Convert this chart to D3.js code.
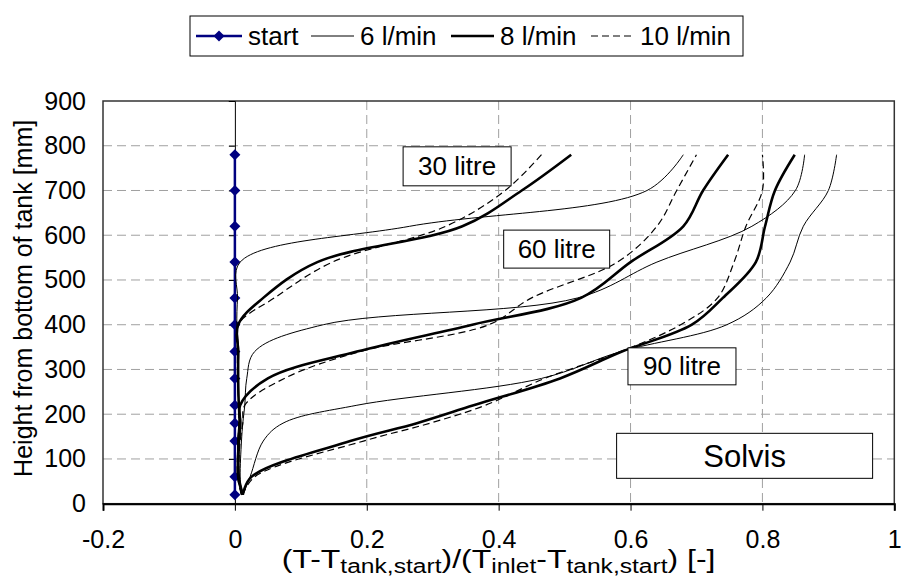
<!DOCTYPE html>
<html lang="en">
<head>
<meta charset="utf-8">
<title>Solvis - temperature profiles during draw-off</title>
<script src="https://cdn.jsdelivr.net/npm/d3@7"></script>
<style>
  body { margin: 0; background: #fff; }
  svg { font-family: "Liberation Sans", Arial, sans-serif; }
</style>
</head>
<body>
<script>
// sensor heights in the tank [mm]
var heights = [20, 60, 140, 180, 220, 280, 340, 400, 460, 540, 620, 700, 780];

// dimensionless temperature at each sensor height
var startVals = [0, 0, 0, 0, 0, 0, 0, 0, 0, 0, 0, 0, 0];
var l30_6  = [0.010, 0.006, 0.004, 0.006, 0.006, 0.004, 0.006, 0.003, 0.004, 0.008, 0.265, 0.625, 0.680];
var l30_8  = [0.012, 0.005, 0.006, 0.008, 0.006, 0.005, 0.005, 0.005, 0.043, 0.125, 0.345, 0.435, 0.510];
var l30_10 = [0.010, 0.004, 0.005, 0.006, 0.006, 0.004, 0.004, 0.005, 0.060, 0.148, 0.320, 0.410, 0.465];
var l60_6  = [0.010, 0.008, 0.010, 0.012, 0.015, 0.018, 0.030, 0.134, 0.520, 0.640, 0.784, 0.850, 0.864];
var l60_8  = [0.012, 0.006, 0.006, 0.008, 0.008, 0.050, 0.185, 0.360, 0.525, 0.600, 0.680, 0.710, 0.748];
var l60_10 = [0.010, 0.006, 0.008, 0.012, 0.015, 0.075, 0.190, 0.385, 0.450, 0.580, 0.640, 0.670, 0.700];
var l90_6  = [0.012, 0.023, 0.043, 0.073, 0.185, 0.465, 0.585, 0.746, 0.806, 0.842, 0.862, 0.900, 0.9125];
var l90_8  = [0.012, 0.025, 0.175, 0.276, 0.362, 0.493, 0.587, 0.693, 0.740, 0.790, 0.804, 0.819, 0.849];
var l90_10 = [0.012, 0.030, 0.195, 0.296, 0.380, 0.470, 0.585, 0.676, 0.732, 0.757, 0.775, 0.800, 0.800];

var flowNames = ["6 l/min", "8 l/min", "10 l/min"];
var xTicks = [-0.2, 0, 0.2, 0.4, 0.6, 0.8, 1];
var yTicks = [0, 100, 200, 300, 400, 500, 600, 700, 800, 900];

// box labels: text, x value, height
var boxLabels = ["30 litre", "60 litre", "90 litre"];
var boxX = [0.337, 0.488, 0.678];
var boxH = [754, 569, 307];
var tankName = "Solvis";
var tankX = 0.773, tankH = 107;

var w = 901, h = 580;
var pLeft = 103, pRight = 894.3, pTop = 101, pBottom = 503.7;

var svg = d3.select("body").append("svg")
    .attr("width", w)
    .attr("height", h);

var x = d3.scaleLinear().domain([-0.2, 1]).range([pLeft, pRight]);
var y = d3.scaleLinear().domain([0, 900]).range([pBottom, pTop]);

// grid
svg.append("g").selectAll("line")
    .data(yTicks.filter(function(d) { return d > 0 && d < 900; }))
    .enter().append("line")
    .attr("x1", pLeft).attr("x2", pRight)
    .attr("y1", function(d) { return y(d); })
    .attr("y2", function(d) { return y(d); })
    .attr("stroke", "#a0a0a0")
    .attr("stroke-dasharray", "9,5");

svg.append("g").selectAll("line")
    .data(xTicks.filter(function(d) { return d > 0 && d < 1; }))
    .enter().append("line")
    .attr("y1", pTop).attr("y2", pBottom)
    .attr("x1", function(d) { return x(d); })
    .attr("x2", function(d) { return x(d); })
    .attr("stroke", "#a0a0a0")
    .attr("stroke-dasharray", "9,5");

// plot border
svg.append("rect")
    .attr("x", pLeft).attr("y", pTop)
    .attr("width", pRight - pLeft).attr("height", pBottom - pTop)
    .attr("fill", "none")
    .attr("stroke", "#333")
    .attr("stroke-width", 1.5);

// value axis crosses at x = 0
var yAxisAtZero = d3.axisLeft(y).tickValues(yTicks).tickSize(6).tickFormat("");
svg.append("g")
    .attr("transform", "translate(" + x(0) + ",0)")
    .call(yAxisAtZero)
    .call(function(g) { g.selectAll("line, path").attr("stroke", "#000"); });

// y labels at the left of the plot
var yLabels = d3.axisLeft(y).tickValues(yTicks).tickSize(0).tickPadding(17);
svg.append("g")
    .attr("transform", "translate(" + pLeft + ",0)")
    .call(yLabels)
    .call(function(g) {
        g.select(".domain").remove();
        g.selectAll("text").attr("font-size", 25).attr("font-family", "Liberation Sans, Arial, sans-serif").attr("fill", "#000");
    });

var xAxis = d3.axisBottom(x).tickValues(xTicks).tickSize(7).tickPadding(20)
    .tickFormat(function(d) { return String(+d.toFixed(1)); });
svg.append("g")
    .attr("transform", "translate(0," + pBottom + ")")
    .call(xAxis)
    .call(function(g) {
        g.select(".domain").attr("stroke", "#000").attr("stroke-width", 2);
        g.selectAll("line").attr("stroke", "#000");
        g.selectAll("text").attr("font-size", 25).attr("font-family", "Liberation Sans, Arial, sans-serif").attr("fill", "#000");
    });

// curves
function pts(vals) {
    return vals.map(function(v, i) { return [v, heights[i]]; });
}
var line = d3.line()
    .x(function(d) { return x(d[0]); })
    .y(function(d) { return y(d[1]); })
    .curve(d3.curveCatmullRom.alpha(0.5));

// start profile first, the others are drawn over it
svg.append("path")
    .attr("d", line(pts(startVals)))
    .attr("fill", "none")
    .attr("stroke", "#000080")
    .attr("stroke-width", 2.5);

var diamond = "M0,-5.5L5.5,0L0,5.5L-5.5,0Z";
svg.append("g").selectAll("path")
    .data(pts(startVals))
    .enter().append("path")
    .attr("d", diamond)
    .attr("transform", function(d) { return "translate(" + x(d[0]) + "," + y(d[1]) + ")"; })
    .attr("fill", "#000080");

var styles = [
    { width: 1, dash: null },
    { width: 2.6, dash: null },
    { width: 1.2, dash: "7,4" }
];
var series = [
    [l30_6, 0], [l30_8, 1], [l30_10, 2],
    [l60_6, 0], [l60_8, 1], [l60_10, 2],
    [l90_6, 0], [l90_8, 1], [l90_10, 2]
];
series.forEach(function(s) {
    var st = styles[s[1]];
    svg.append("path")
        .attr("d", line(pts(s[0])))
        .attr("fill", "none")
        .attr("stroke", "#000")
        .attr("stroke-width", st.width)
        .attr("stroke-dasharray", st.dash);
});

// volume label boxes
var bw = [108, 106, 108], bh = [39, 38, 37];
boxLabels.forEach(function(t, i) {
    var cx = x(boxX[i]), cy = y(boxH[i]);
    svg.append("rect")
        .attr("x", cx - bw[i] / 2).attr("y", cy - bh[i] / 2)
        .attr("width", bw[i]).attr("height", bh[i])
        .attr("fill", "#fff").attr("stroke", "#000");
    svg.append("text")
        .attr("x", cx).attr("y", cy + 9)
        .attr("text-anchor", "middle")
        .attr("font-size", 26)
        .text(t);
});

var tx = x(tankX), ty = y(tankH);
svg.append("rect")
    .attr("x", tx - 128).attr("y", ty - 22.5)
    .attr("width", 256).attr("height", 45)
    .attr("fill", "#fff").attr("stroke", "#000");
svg.append("text")
    .attr("x", tx).attr("y", ty + 11)
    .attr("text-anchor", "middle")
    .attr("font-size", 31)
    .text(tankName);

// axis titles
svg.append("text")
    .attr("transform", "translate(32," + ((pTop + pBottom) / 2 - 4) + ") rotate(-90)")
    .attr("text-anchor", "middle")
    .attr("font-size", 25)
    .text("Height from bottom of tank [mm]");

// the x title is a little wider than its height suggests, so stretch it
var xt = svg.append("text")
    .attr("transform", "translate(" + ((pLeft + pRight) / 2) + ",568) scale(1.23,1)")
    .attr("text-anchor", "middle")
    .attr("font-size", 26);
xt.append("tspan").text("(T-T");
xt.append("tspan").attr("dy", 5).attr("font-size", 20).text("tank,start");
xt.append("tspan").attr("dy", -5).text(")/(T");
xt.append("tspan").attr("dy", 5).attr("font-size", 20).text("inlet");
xt.append("tspan").attr("dy", -5).text("-T");
xt.append("tspan").attr("dy", 5).attr("font-size", 20).text("tank,start");
xt.append("tspan").attr("dy", -5).text(") [-]");

// legend
var lg = svg.append("g");
lg.append("rect")
    .attr("x", 190).attr("y", 16)
    .attr("width", 553).attr("height", 40)
    .attr("fill", "#fff").attr("stroke", "#000");
var ly = 36;
lg.append("line").attr("x1", 196).attr("x2", 242).attr("y1", ly).attr("y2", ly)
    .attr("stroke", "#000080").attr("stroke-width", 2.5);
lg.append("path").attr("d", diamond).attr("transform", "translate(219," + ly + ")").attr("fill", "#000080");
lg.append("text").attr("x", 248).attr("y", ly + 9).attr("font-size", 26).text("start");
var lx = [311, 451, 591];
flowNames.forEach(function(n, i) {
    lg.append("line").attr("x1", lx[i]).attr("x2", lx[i] + 43).attr("y1", ly).attr("y2", ly)
        .attr("stroke", "#000")
        .attr("stroke-width", styles[i].width)
        .attr("stroke-dasharray", styles[i].dash);
    lg.append("text").attr("x", lx[i] + 49).attr("y", ly + 9).attr("font-size", 26).text(n);
});
</script>
</body>
</html>
